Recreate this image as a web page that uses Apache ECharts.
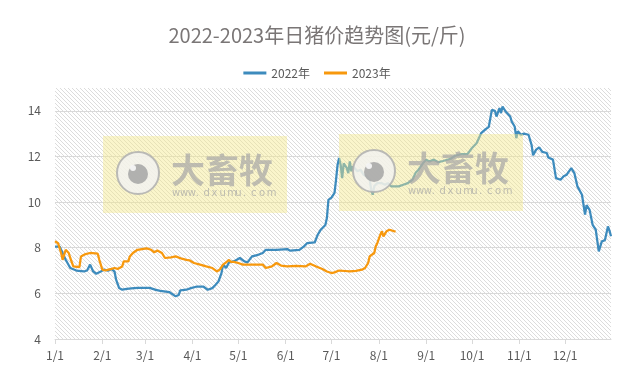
<!DOCTYPE html>
<html>
<head>
<meta charset="utf-8">
<script src="https://cdn.jsdelivr.net/npm/echarts@6/dist/echarts.min.js"></script>
<style>
html,body{margin:0;padding:0;background:#fff;}
#chart{width:634px;height:368px;}
</style>
</head>
<body>
<div id="chart"></div>
<script>
// ---- data ----
const monthDays = [31,28,31,30,31,30,31,31,30,31,30,31];
const seriesNames = ['2022年', '2023年'];
const yTicks = [4, 6, 8, 10, 12, 14];

// 2022: day-of-year index (0 = 1/1) and price (元/斤)
const days2022 = [0,3,5,7,10,11,14,19,21,23,24,25,27,30,32,35,37,39,40,42,44,47,50,54,62,66,69,75,79,81,82,86,89,93,97,100,103,105,107,109,110,111,112,114,117,119,121,124,126,129,130,133,136,138,145,152,154,160,163,165,170,172,174,177,178,179,181,183,184,185,186,187,188,189,191,192,193,194,195,198,200,202,204,206,207,208,209,211,214,216,218,220,225,228,231,234,236,238,239,241,243,245,248,251,254,259,262,266,270,273,276,279,282,284,286,288,289,291,292,293,295,296,298,299,301,302,303,305,307,310,312,313,315,317,319,322,323,326,328,331,333,335,338,340,342,345,347,348,350,352,354,356,358,360,362,363,364];
const vals2022 = [8.05,8.05,7.77,7.47,7.11,7.04,7.0,6.96,7.0,7.26,7.2,6.96,6.86,6.96,7.04,7.0,7.07,6.95,6.6,6.23,6.16,6.2,6.22,6.24,6.24,6.15,6.11,6.05,5.87,5.93,6.13,6.16,6.23,6.3,6.3,6.16,6.23,6.37,6.52,6.89,7.26,7.33,7.11,7.36,7.4,7.47,7.55,7.4,7.36,7.62,7.69,7.69,7.77,7.91,7.91,7.94,7.87,7.91,8.06,8.2,8.23,8.57,8.79,9.0,9.3,10.1,10.2,10.4,10.98,11.64,11.93,11.64,11.05,11.7,11.5,11.27,11.78,11.35,11.57,11.35,11.42,11.2,11.13,10.98,10.55,10.32,10.7,10.83,10.83,10.76,10.83,10.69,10.69,10.76,10.83,10.98,11.27,11.42,11.49,11.71,11.86,11.78,11.86,11.75,11.8,11.9,12.03,12.1,12.1,12.37,12.58,13.02,13.2,13.3,14.04,14.0,13.75,14.12,13.9,14.19,13.97,14.0,13.75,13.53,13.3,12.8,13.1,12.95,13.0,12.95,12.51,12.05,12.3,12.4,12.2,12.15,11.95,11.86,11.05,10.98,11.13,11.2,11.49,11.27,10.69,10.32,9.45,9.87,9.66,9.0,8.79,7.84,8.28,8.33,8.93,8.75,8.5];

// 2023
const days2023 = [0,2,4,5,7,9,10,11,12,13,16,17,20,23,28,29,31,33,35,37,39,41,44,45,48,49,51,52,54,57,60,63,65,67,70,72,76,79,83,86,88,91,95,99,103,106,108,110,112,114,115,117,120,123,130,136,138,142,145,148,152,158,164,167,171,175,178,181,183,186,190,193,197,201,203,205,206,207,209,210,211,213,214,215,217,219,222,223];
const vals2023 = [8.28,8.2,7.77,7.47,7.91,7.77,7.55,7.62,7.18,7.11,7.15,7.62,7.72,7.77,7.74,7.47,7.04,7.0,7.04,7.07,7.11,7.07,7.18,7.4,7.4,7.62,7.77,7.72,7.91,7.94,7.97,7.91,7.8,7.88,7.77,7.55,7.58,7.62,7.52,7.47,7.45,7.33,7.26,7.18,7.11,6.96,7.05,7.26,7.36,7.47,7.38,7.38,7.33,7.26,7.26,7.26,7.11,7.18,7.33,7.22,7.18,7.21,7.18,7.3,7.18,7.07,6.96,6.89,6.92,7.0,6.98,6.96,6.99,7.04,7.11,7.33,7.62,7.55,7.77,8.06,8.2,8.57,8.72,8.5,8.72,8.79,8.72,8.72];

// ---- build ----
const categories = [];
monthDays.forEach((n, m) => { for (let d = 1; d <= n; d++) categories.push((m + 1) + '/' + d); });
const pairs = (ds, vs) => ds.map((d, i) => [d, vs[i]]);

function makeHatch() {
  const s = 4;
  const c = document.createElement('canvas');
  c.width = s; c.height = s;
  const ctx = c.getContext('2d');
  ctx.fillStyle = '#ffffff';
  ctx.fillRect(0, 0, s, s);
  ctx.strokeStyle = '#dcdcdc';
  ctx.lineWidth = 1;
  ctx.beginPath();
  ctx.moveTo(-1, -1); ctx.lineTo(s + 1, s + 1);
  ctx.moveTo(-1, s - 1); ctx.lineTo(1, s + 1);
  ctx.moveTo(s - 1, -1); ctx.lineTo(s + 1, 1);
  ctx.stroke();
  return c;
}

function watermark(x, y) {
  const url = 'www.dxumu.com';
  const chars = url.split('').map((ch, i) => ({
    type: 'text', left: x + 69 + i * 7.9, top: y + 52,
    style: { text: ch, fill: 'rgba(165,165,165,0.7)', font: '10px "DejaVu Sans"' }
  }));
  return [
    { type: 'rect', left: x, top: y, shape: { width: 184, height: 77 },
      style: { fill: 'rgba(244,232,140,0.45)' }, z: 100 },
    { type: 'circle', left: x + 13, top: y + 15, shape: { r: 21 },
      style: { fill: 'rgba(243,243,243,0.8)', stroke: 'rgba(175,175,175,0.85)', lineWidth: 2 }, z: 101 },
    { type: 'circle', left: x + 25, top: y + 28, shape: { r: 10 },
      style: { fill: 'rgba(165,165,165,0.85)' }, z: 102 },
    { type: 'circle', left: x + 27, top: y + 29, shape: { r: 3 },
      style: { fill: 'rgba(245,245,245,0.95)' }, z: 103 },
    { type: 'text', left: x + 68, top: y + 17,
      style: { text: '大畜牧', fill: 'rgba(165,165,165,0.7)', font: 'bold 34px "Noto Sans CJK SC"' }, z: 102 },
    ...chars.map(c => Object.assign(c, { z: 102 }))
  ];
}

const chart = echarts.init(document.getElementById('chart'), null, { renderer: 'canvas' });
const textColor = '#595959';
chart.setOption({
  animation: false,
  backgroundColor: '#ffffff',
  title: {
    text: '2022-2023年日猪价趋势图(元/斤)',
    left: 'center', top: 20,
    textStyle: { fontSize: 20, fontWeight: 'normal', color: '#7a7676', fontFamily: '"Noto Sans CJK SC", sans-serif' }
  },
  legend: {
    data: seriesNames, top: 62, left: 'center', icon: 'rect',
    itemWidth: 23, itemHeight: 3, itemGap: 14,
    textStyle: { fontSize: 12, color: textColor, fontFamily: '"Noto Sans CJK SC", sans-serif' }
  },
  grid: {
    left: 55, right: 23, top: 88, bottom: 29,
    show: true, borderWidth: 0,
    backgroundColor: { image: makeHatch(), repeat: 'repeat' }
  },
  xAxis: {
    type: 'category', data: categories, boundaryGap: false,
    axisLine: { lineStyle: { color: '#d9d9d9' } },
    axisTick: { show: true, length: 5, lineStyle: { color: '#d9d9d9' },
      interval: (i, v) => /\/1$/.test(v) },
    axisLabel: { color: textColor, fontSize: 12, margin: 10,
      interval: (i, v) => /\/1$/.test(v),
      fontFamily: '"Noto Sans CJK SC", sans-serif' },
    splitLine: { show: false }
  },
  yAxis: {
    type: 'value', min: 4, max: 15, interval: 2,
    axisLine: { show: false }, axisTick: { show: false },
    axisLabel: { color: textColor, fontSize: 12, margin: 14, showMaxLabel: false,
      fontFamily: '"Noto Sans CJK SC", sans-serif',
      formatter: v => (yTicks.indexOf(v) >= 0 ? String(v) : '') },
    splitLine: { show: true, showMaxLine: false, showMinLine: false, lineStyle: { color: '#d9d9d9', width: 1 } }
  },
  series: [
    { name: seriesNames[0], type: 'line', data: pairs(days2022, vals2022), symbol: 'none',
      lineStyle: { color: '#3d8bbd', width: 2.25 }, itemStyle: { color: '#3d8bbd' }, z: 3 },
    { name: seriesNames[1], type: 'line', data: pairs(days2023, vals2023), symbol: 'none',
      lineStyle: { color: '#f7980d', width: 2.25 }, itemStyle: { color: '#f7980d' }, z: 4 }
  ],
  graphic: [...watermark(103, 136), ...watermark(339, 134)]
});
</script>
</body>
</html>
